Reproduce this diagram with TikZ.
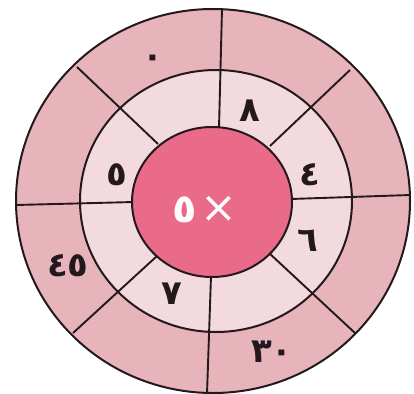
\documentclass[tikz,border=0pt]{standalone}
\usepackage{fontspec}
\usetikzlibrary{shapes.geometric}
\newfontfamily\arabicfont[Script=Arabic]{DejaVu Sans}
\definecolor{outerpink}{RGB}{232,180,188}
\definecolor{midpink}{RGB}{243,218,222}
\definecolor{centerpink}{RGB}{234,106,138}
\definecolor{ink}{RGB}{35,25,28}
\tikzset{
  ring/.style={draw=ink, line width=2pt},
  divider/.style={draw=ink, line width=1.9pt},
  num/.style={font=\arabicfont\bfseries\fontsize{34}{36}\selectfont, text=ink, inner sep=0pt},
  ctr/.style={font=\arabicfont\bfseries\fontsize{40}{42}\selectfont, text=white, inner sep=0pt},
  ctrthin/.style={font=\arabicfont\fontsize{44}{46}\selectfont, text=white, inner sep=0pt}
}
\begin{document}
\begin{tikzpicture}[x=1pt,y=-1pt]
\useasboundingbox (0,0) rectangle (414,393);
\fill[white] (0,0) rectangle (414,393);
% rings
\path[ring, fill=outerpink] (213,201) ellipse [x radius=197, y radius=192];
\path[ring, fill=midpink] (216,201) ellipse [x radius=136, y radius=131];
% dividers
\coordinate (t1) at (219,128); \coordinate (t2) at (222,9);
\coordinate (b1) at (211,276); \coordinate (b2) at (207,394);
\coordinate (l1) at (134,202); \coordinate (l2) at (16,205);
\coordinate (r1) at (291,199); \coordinate (r2) at (410,195);
\coordinate (ul1) at (158,144); \coordinate (ul2) at (77,67);
\coordinate (ur1) at (270,146); \coordinate (ur2) at (350,70);
\coordinate (lr1) at (269,253); \coordinate (lr2) at (355,333);
\coordinate (ll1) at (157,256); \coordinate (ll2) at (73,333);
\draw[divider] (t1) -- (t2);
\draw[divider] (b1) -- (b2);
\draw[divider] (l1) -- (l2);
\draw[divider] (r1) -- (r2);
\draw[divider] (ul1) -- (ul2);
\draw[divider] (ur1) -- (ur2);
\draw[divider] (lr1) -- (lr2);
\draw[divider] (ll1) -- (ll2);
% center
\node[ring, fill=centerpink, ellipse, minimum width=160pt, minimum height=150pt, inner sep=0pt] (c) at (212,202) {};
\node[ctr] (ct5) at (185,210) {٥};
\node[ctrthin] (ctx) at (219,209) {×};
% numbers
\node[num] (n0) at (153,61) {٠};
\node[num] (n8) at (250,111) {٨};
\node[num] (n4) at (310,175) {٤};
\node[num] (n5) at (117,175) {٥};
\node[num] (n6) at (308,241) {٦};
\node[num] (n7) at (172,294) {٧};
\node[num] (n45) at (68,266) {٤٥};
\node[num] (n30) at (272,352) {٣٠};
\end{tikzpicture}
\end{document}
